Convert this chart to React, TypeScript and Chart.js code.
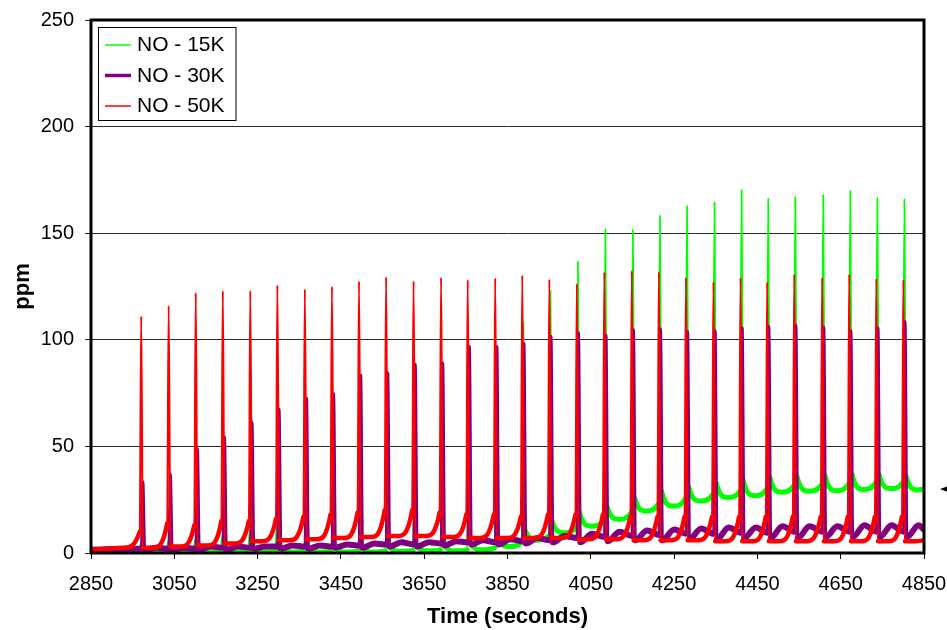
import { useEffect, useRef } from "react";
import { Chart, registerables } from "chart.js";

Chart.register(...registerables);

// Pulse times (seconds) of the injection cycle
const spikeTimes = [
  2972, 3038, 3103, 3168, 3234, 3299, 3365, 3430, 3495, 3560, 3626, 3692, 3756, 3822, 3887,
  3952, 4018, 4084, 4150, 4215, 4280, 4346, 4411, 4475, 4540, 4607, 4672, 4737, 4802,
];

// NO - 15K (green)
const greenPeak = [
  4, 5, 6, 8, 10, 12, 15, 19, 24, 30, 38, 48, 60, 80, 108, 123, 136.6, 151.9, 151.7, 158.2,
  162.8, 164.5, 170.4, 166.2, 167, 167.9, 169.8, 166.5, 165.9,
];
const greenRise = [
  0.8, 1, 1, 1, 1, 1, 1, 1, 1, 1, 1.2, 1.5, 1.5, 2.5, 5, 8, 12, 15, 19, 23, 25.5, 27.5, 29, 30,
  31.5, 32, 32.5, 33, 33,
];
const greenTail = [
  2, 2, 2, 2, 2, 2.5, 2.5, 3, 3, 3.5, 4, 4.5, 5, 7, 11, 15, 19, 22, 26, 29, 31, 33, 34, 35.5, 36,
  36.5, 37, 37, 36,
];
const greenFloor = [
  0.5, 0.5, 0.5, 0.5, 0.5, 0.5, 0.5, 0.5, 0.5, 0.8, 1, 1, 1.5, 3, 6, 9.5, 12.6, 15.8, 19.7, 22,
  24.4, 26, 26.9, 28.5, 29, 29.2, 29.8, 30.2, 29.6,
];

// NO - 30K (purple)
const purplePeak = [
  33.4, 37, 49, 54.5, 61.6, 67.6, 72.6, 74.7, 83.5, 84.6, 88.5, 89.1, 96.8, 96.8, 98.4, 101.6,
  103.3, 102.3, 104.7, 105.1, 103.9, 104.2, 105.7, 106.2, 106.8, 105.9, 104.3, 105.7, 108.6,
];
const purpleRise = [
  2, 2, 2, 2.5, 2.5, 3, 3, 3, 3.5, 4, 4, 4.5, 5, 5, 5.5, 6, 7, 7.5, 8, 8.5, 9, 9, 9.5, 9.5, 10,
  10, 10, 10, 10,
];
const purpleDip = [
  1.5, 1.5, 1.5, 1.5, 2, 2, 2, 2.5, 2.5, 3, 3, 3.5, 4, 4, 4.5, 5, 5, 5.5, 6, 6, 6.5, 6.5, 7, 7, 7,
  7.5, 7.5, 7.5, 7.5,
];
const purpleHump = [
  2.5, 2.5, 3, 3, 3, 3.5, 3.5, 4, 4.5, 5, 5, 5.5, 6, 6.5, 7, 8, 9, 10, 10.5, 11, 11.5, 12, 12,
  12.5, 12.5, 12.5, 13, 13, 13,
];

// NO - 50K (red)
const redPeak = [
  111, 116, 122, 123, 123, 125.6, 123.7, 125, 127.4, 129.4, 127.5, 129.2, 128.1, 128.9, 130.3,
  128.4, 126.3, 131.8, 132.4, 131.9, 129.1, 127.2, 129, 127.1, 130.8, 129.1, 130.7, 128.7, 128.2,
];
const redRise = [
  10, 14, 13, 15, 15, 16, 17, 18, 19, 20, 20, 19, 18, 18, 17, 18, 18, 18, 17, 17, 17, 17, 17, 17,
  17, 17, 17, 17, 17,
];
const redFloor = [
  2.5, 3, 3.5, 4.5, 5.5, 6, 6.5, 7, 7.5, 8, 8, 7.5, 7, 7, 7, 7, 6.5, 6.5, 6, 6, 6, 5.5, 5.5, 5.5,
  5.5, 5.5, 5.5, 5.5, 5.5,
];

// Readings before the first pulse and at the end of the record
const greenLead: [number, number][] = [[2850, 1], [2955, 0.8]];
const purpleLead: [number, number][] = [[2850, 1.5], [2955, 2]];
const redLead: [number, number][] = [[2850, 1.5], [2930, 2.5]];
const greenEnd = 30;
const purpleEnd = 11;
const redEnd = 6;

const xTicks = [2850, 3050, 3250, 3450, 3650, 3850, 4050, 4250, 4450, 4650, 4850];
const yTicks = [0, 50, 100, 150, 200, 250];
const seriesNames = ["NO - 15K", "NO - 30K", "NO - 50K"];
const arrowLevel = 30;

const FONT = "'Liberation Sans', Arial, Helvetica, sans-serif";

type Shape = { rise: number; peak: number; tail: number; floor: number };

function buildTrace(
  lead: [number, number][],
  rise: number[],
  peak: number[],
  tail: number[],
  floor: number[],
  end: number,
  shape: Shape
) {
  const pts = lead.map(([x, y]) => ({ x, y }));
  spikeTimes.forEach((t, i) => {
    pts.push({ x: t + shape.rise, y: rise[i] });
    pts.push({ x: t + shape.peak, y: peak[i] });
    pts.push({ x: t + shape.tail, y: tail[i] });
    pts.push({ x: t + shape.floor, y: floor[i] });
  });
  pts.push({ x: xTicks[xTicks.length - 1], y: end });
  return pts;
}

const greenData = buildTrace(greenLead, greenRise, greenPeak, greenTail, greenFloor, greenEnd, {
  rise: -3,
  peak: 1,
  tail: 5,
  floor: 32,
});
const purpleData = buildTrace(
  purpleLead,
  purpleRise,
  purplePeak,
  purpleDip,
  purpleHump,
  purpleEnd,
  { rise: -1, peak: 2.5, tail: 7, floor: 35 }
);
const redData = buildTrace(redLead, redRise, redPeak, redFloor, redFloor, redEnd, {
  rise: -5,
  peak: -1.5,
  tail: 2.5,
  floor: 28,
});

const colors = ["#00ff00", "#800080", "#ff0000"];
const legendWidths = [1.5, 3.5, 1.5];

// noisy baseline readings render as a wide band, the pulses as a fine line
const bandWidth = (thin: number, wide: number) => (ctx: any) =>
  Math.abs(ctx.p1.parsed.y - ctx.p0.parsed.y) < 14 ? wide : thin;

const framePlugin = {
  id: "plotFrame",
  afterDatasetsDraw(chart: any) {
    const { ctx, chartArea } = chart;
    ctx.save();
    ctx.strokeStyle = "#000";
    ctx.lineWidth = 3;
    ctx.strokeRect(
      chartArea.left,
      chartArea.top,
      chartArea.right - chartArea.left,
      chartArea.bottom - chartArea.top
    );
    ctx.restore();
  },
};

const legendPlugin = {
  id: "boxLegend",
  afterDraw(chart: any) {
    const { ctx, chartArea } = chart;
    const x = chartArea.left + 7.5;
    const y = chartArea.top + 7.5;
    const w = 137.5;
    const h = 93;
    ctx.save();
    ctx.fillStyle = "#fff";
    ctx.fillRect(x, y, w, h);
    ctx.strokeStyle = "#000";
    ctx.lineWidth = 1;
    ctx.strokeRect(x, y, w, h);
    ctx.font = `21px ${FONT}`;
    ctx.textBaseline = "middle";
    ctx.textAlign = "left";
    seriesNames.forEach((name, i) => {
      const rowY = y + 17.5 + i * 30.5;
      ctx.strokeStyle = colors[i];
      ctx.lineWidth = legendWidths[i];
      ctx.beginPath();
      ctx.moveTo(x + 6.5, rowY);
      ctx.lineTo(x + 32.5, rowY);
      ctx.stroke();
      ctx.fillStyle = "#000";
      ctx.fillText(name, x + 38.5, rowY + 0.5);
    });

    // level marker on the right margin
    const yPix = chart.scales.y.getPixelForValue(arrowLevel);
    const tip = chartArea.right + 16;
    ctx.fillStyle = "#000";
    ctx.beginPath();
    ctx.moveTo(tip, yPix);
    ctx.lineTo(tip + 8, yPix - 3);
    ctx.lineTo(tip + 8, yPix + 3);
    ctx.closePath();
    ctx.fill();
    ctx.restore();
  },
};

export default function App() {
  const ref = useRef<HTMLCanvasElement>(null);

  useEffect(() => {
    const canvas = ref.current;
    if (!canvas) return;
    const chart = new Chart(canvas, {
      type: "line",
      data: {
        datasets: [
          {
            label: seriesNames[0],
            data: greenData,
            borderColor: colors[0],
            order: 2,
            segment: { borderWidth: bandWidth(1.8, 5) },
          },
          {
            label: seriesNames[1],
            data: purpleData,
            borderColor: colors[1],
            order: 1,
            segment: { borderWidth: bandWidth(3, 6) },
          },
          {
            label: seriesNames[2],
            data: redData,
            borderColor: colors[2],
            order: 0,
            segment: { borderWidth: bandWidth(2, 4.5) },
          },
        ],
      } as any,
      options: {
        responsive: false,
        animation: false,
        devicePixelRatio: 1,
        events: [],
        layout: { padding: { left: 0, right: 23, top: 20, bottom: 0 } },
        elements: {
          point: { radius: 0 },
          line: {
            cubicInterpolationMode: "monotone",
            borderCapStyle: "round",
            borderJoinStyle: "round",
            fill: false,
          },
        },
        plugins: {
          legend: { display: false },
          tooltip: { enabled: false },
        },
        scales: {
          x: {
            type: "linear",
            min: xTicks[0],
            max: xTicks[xTicks.length - 1],
            afterBuildTicks: (s: any) => {
              s.ticks = xTicks.map((v) => ({ value: v }));
            },
            afterFit: (s: any) => {
              s.height = 77;
              s.paddingLeft = 0;
              s.paddingRight = 0;
            },
            grid: {
              drawOnChartArea: false,
              drawTicks: true,
              tickLength: 6,
              color: "#000",
              lineWidth: 1,
            },
            border: { display: false },
            ticks: {
              color: "#000",
              font: { size: 20, family: FONT },
              padding: 13,
              maxRotation: 0,
              autoSkip: false,
              callback: (v: any) => String(v),
            },
            title: {
              display: true,
              text: "Time (seconds)",
              color: "#000",
              font: { size: 22, weight: "bold", family: FONT },
              padding: { top: 0, bottom: 0 },
            },
          },
          y: {
            type: "linear",
            min: yTicks[0],
            max: yTicks[yTicks.length - 1],
            afterBuildTicks: (s: any) => {
              s.ticks = yTicks.map((v) => ({ value: v }));
            },
            afterFit: (s: any) => {
              s.width = 91;
              s.paddingTop = 0;
              s.paddingBottom = 0;
            },
            grid: {
              color: "#2a2a2a",
              lineWidth: 1,
              drawTicks: true,
              tickLength: 6,
            },
            border: { display: false },
            ticks: {
              color: "#000",
              font: { size: 20, family: FONT },
              padding: 11,
              callback: (v: any) => String(v),
            },
            title: {
              display: true,
              text: "ppm",
              color: "#000",
              font: { size: 22, weight: "bold", family: FONT },
              padding: { top: 10, bottom: 0 },
            },
          },
        },
      } as any,
      plugins: [framePlugin, legendPlugin],
    });
    return () => chart.destroy();
  }, []);

  return (
    <div
      style={{
        position: "absolute",
        left: 0,
        top: 0,
        width: 947,
        height: 630,
        background: "#fff",
      }}
    >
      <canvas ref={ref} width={947} height={630} style={{ display: "block" }} />
    </div>
  );
}
